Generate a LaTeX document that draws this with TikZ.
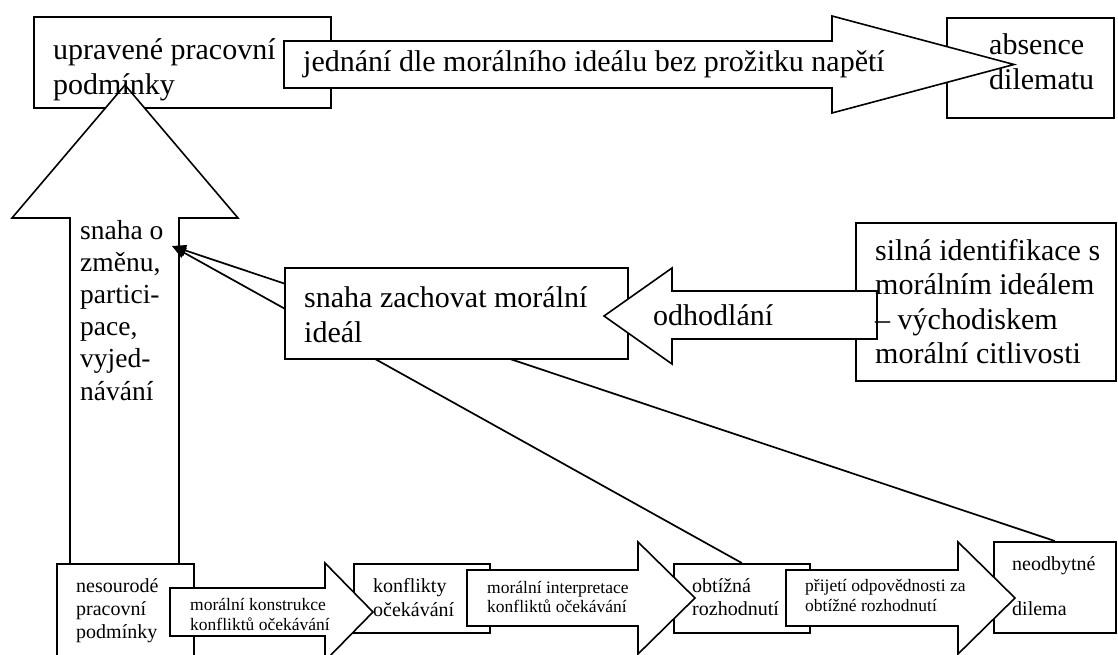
\documentclass[tikz,border=0pt]{standalone}
\usepackage{fontspec}
\setmainfont{Liberation Serif}
\usetikzlibrary{arrows.meta}
\lineskiplimit=-100pt
\newcommand\mlines[1]{\vtop{#1}}
\begin{document}
\begin{tikzpicture}[x=1pt,y=-1pt,
  box/.style={draw, fill=white, line width=1.6pt, inner sep=0pt, anchor=north west},
  blockarrow/.style={draw, fill=white, line width=1.6pt, line join=miter},
  conn/.style={line width=1.7pt, -{Triangle[length=14pt,width=11pt]}},
  txt/.style={inner sep=0pt, anchor=base west},
  big/.style={font=\fontsize{30}{35}\selectfont},
  mid/.style={font=\fontsize{20}{23}\selectfont},
  small/.style={font=\fontsize{17.5}{20}\selectfont}]
\useasboundingbox (0,0) rectangle (1118,655);

% boxes
\node[box, minimum width=297pt, minimum height=91pt] (b1) at (33,16) {};
\node[box, minimum width=167pt, minimum height=100pt] (abs) at (946,17) {};
\node[box, minimum width=260pt, minimum height=158pt] (sil) at (855,222) {};
\node[box, minimum width=136pt, minimum height=69pt] (konf) at (353,563) {};
\node[box, minimum width=136pt, minimum height=69pt] (obt) at (673,563) {};
\node[box, minimum width=122pt, minimum height=91pt] (neo) at (993,541) {};

% top arrow
\draw[blockarrow] (284,41) -- (832,41) -- (832,16) -- (1014,64.5) -- (832,113) -- (832,88) -- (284,88) -- cycle;
% up arrow
\draw[blockarrow] (70,575) -- (70,218) -- (12,218) -- (125,85) -- (238,218) -- (179,218) -- (179,575);

\node[box, minimum width=137pt, minimum height=110pt] (nes) at (56,563) {};

% bottom arrows
\draw[blockarrow] (170,588) -- (325,588) -- (325,563) -- (373,612) -- (325,661) -- (325,636) -- (170,636) -- cycle;
\draw[blockarrow] (467,570) -- (638,570) -- (638,542) -- (695,598) -- (638,654) -- (638,626) -- (467,626) -- cycle;
\draw[blockarrow] (786,570) -- (958,570) -- (958,542) -- (1015,598) -- (958,654) -- (958,626) -- (786,626) -- cycle;

% connectors
\coordinate (tip) at (172,246);
\draw[conn] (obt.north) -- (tip);
\draw[conn] (neo.north) -- (tip);

\node[box, minimum width=343pt, minimum height=91pt] (b5) at (284,267) {};

% left arrow
\draw[blockarrow] (877,291) -- (672,291) -- (672,268) -- (604,316) -- (672,364) -- (672,339) -- (877,339) -- cycle;

% texts
\node[txt, big] (tb1) at (53,60) {\mlines{\hbox{upravené pracovní}\hbox{podmínky}}};
\node[txt, big] (ta1) at (303,72) {jednání dle morálního ideálu bez prožitku napětí};
\node[txt, big] (tabs) at (989,55) {\mlines{\hbox{absence}\hbox{dilematu}}};
\node[txt, font=\fontsize{27.5}{32.2}\selectfont] (ta2) at (80,239) {\mlines{\hbox{snaha o}\hbox{změnu,}\hbox{partici-}\hbox{pace,}\hbox{vyjed-}\hbox{návání}}};
\node[txt, big] (tb5) at (304,307) {\mlines{\hbox{snaha zachovat morální}\hbox{ideál}}};
\node[txt, big] (ta3) at (653,325) {odhodlání};
\node[txt, font=\fontsize{30}{34.5}\selectfont] (tsil) at (875,260) {\mlines{\hbox{silná identifikace s}\hbox{morálním ideálem}\hbox{– východiskem}\hbox{morální citlivosti}}};
\node[txt, mid] (tnes) at (76,592) {\mlines{\hbox{nesourodé}\hbox{pracovní}\hbox{podmínky}}};
\node[txt, small] (tbb1) at (190,610) {\mlines{\hbox{morální konstrukce}\hbox{konfliktů očekávání}}};
\node[txt, font=\fontsize{20}{24}\selectfont] (tkonf) at (373,592) {\mlines{\hbox{konflikty}\hbox{očekávání}}};
\node[txt, font=\fontsize{17.5}{19}\selectfont] (tbb2) at (487,593) {\mlines{\hbox{morální interpretace}\hbox{konfliktů očekávání}}};
\node[txt, mid] (tobt) at (692,592) {\mlines{\hbox{obtížná}\hbox{rozhodnutí}}};
\node[txt, small] (tbb3) at (805,591) {\mlines{\hbox{přijetí odpovědnosti za}\hbox{obtížné rozhodnutí}}};
\node[txt, font=\fontsize{20}{45}\selectfont] (tneo) at (1012,570) {\mlines{\hbox{neodbytné}\hbox{dilema}}};
\end{tikzpicture}
\end{document}
